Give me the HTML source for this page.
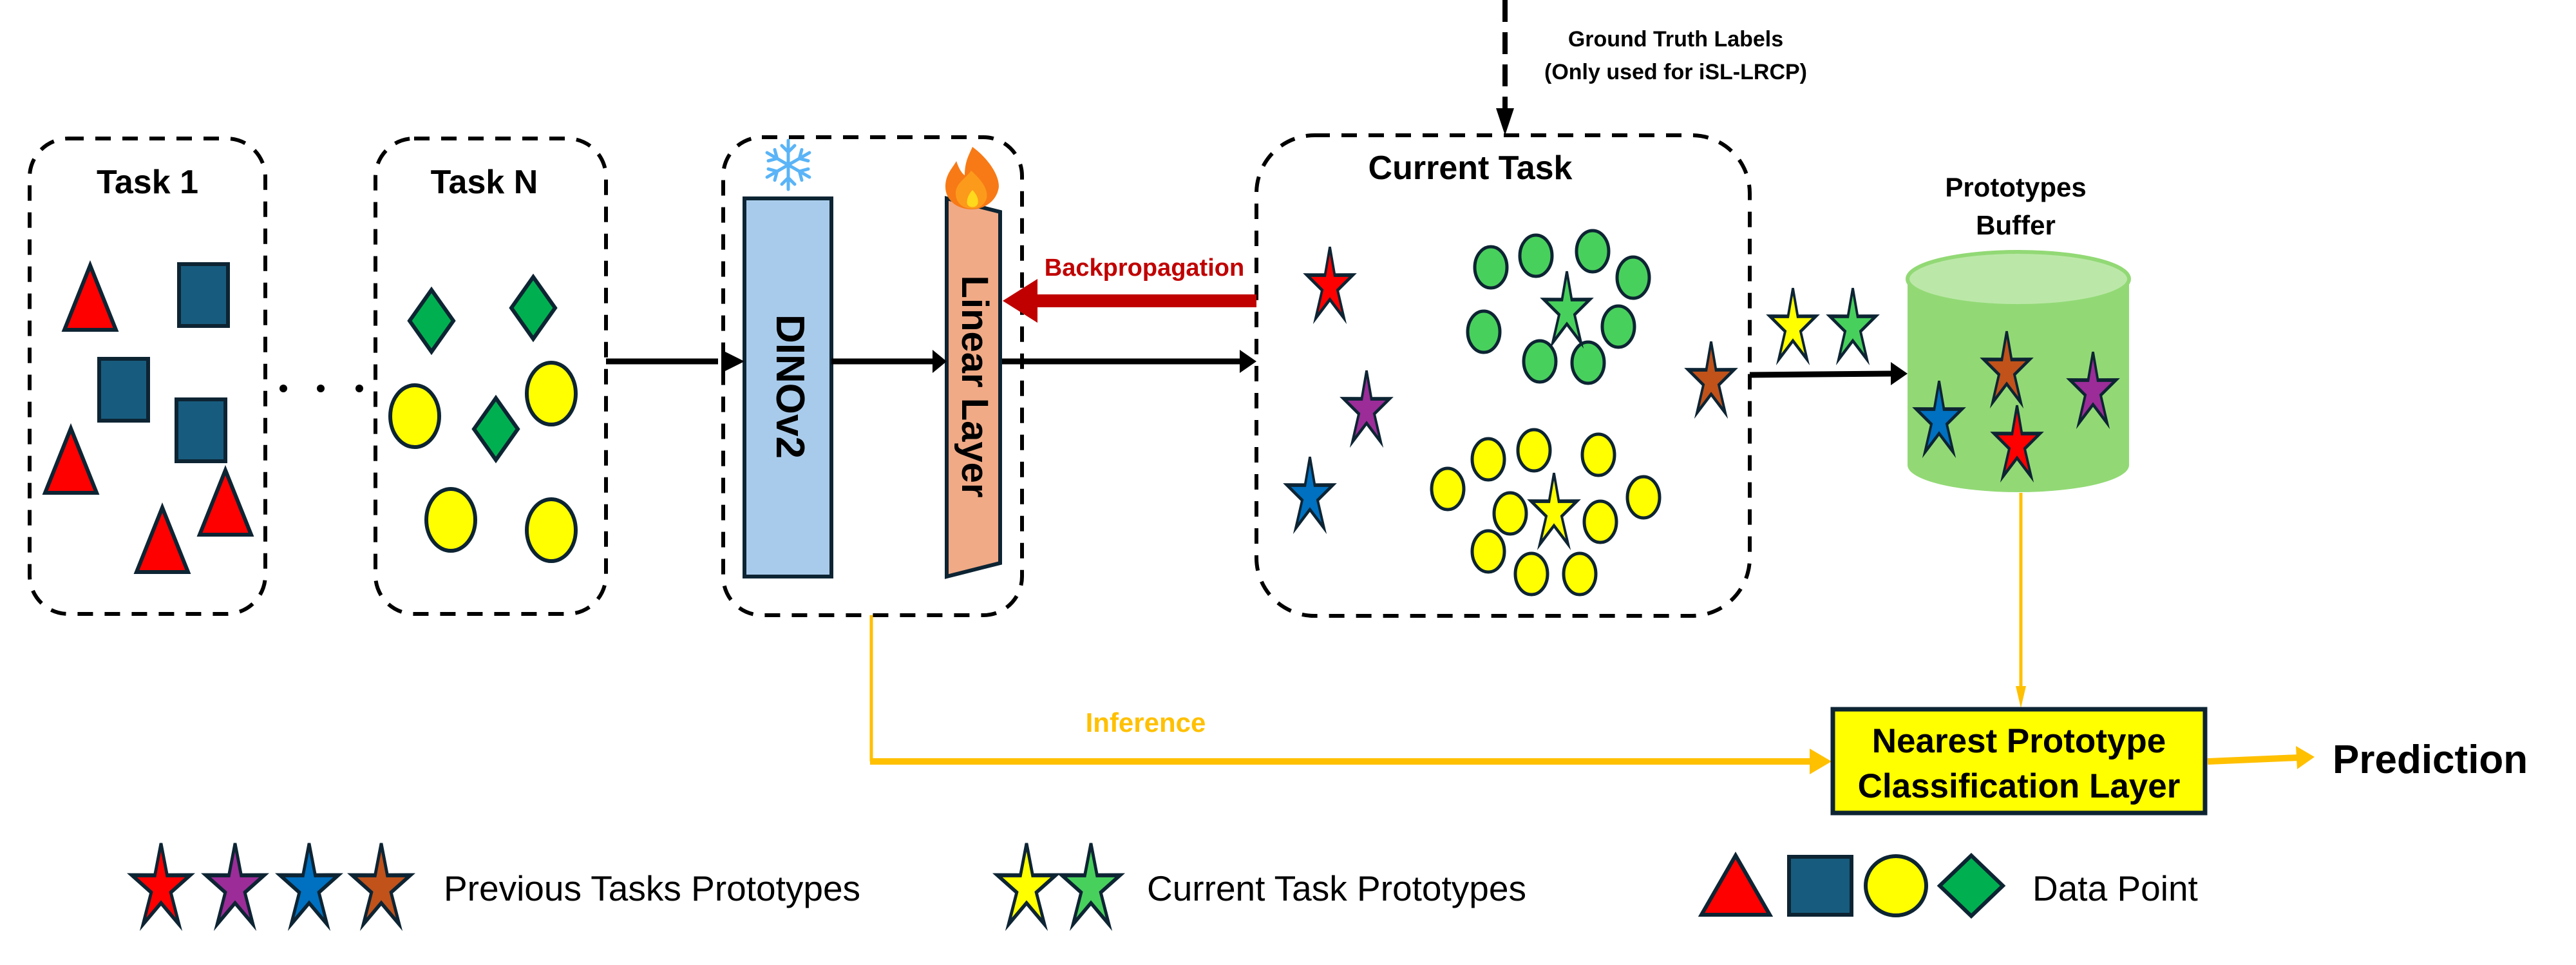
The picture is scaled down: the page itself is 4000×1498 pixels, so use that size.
<!DOCTYPE html>
<html><head><meta charset="utf-8"><style>
html,body{margin:0;padding:0;background:#fff}
svg{display:block}
text{font-family:"Liberation Sans",Arial,sans-serif}
</style></head><body>
<svg width="4000" height="1498" viewBox="0 0 4000 1498" xmlns="http://www.w3.org/2000/svg">
<defs>
<polygon id="st" points="0,-55 10,-15.4 47.6,-15.5 16,5.9 29.4,45.5 0,19 -29.4,45.5 -16,5.9 -47.6,-15.5 -10,-15.4" stroke="#0d2433" stroke-width="5" stroke-linejoin="miter"/>
<polygon id="tri" points="0,-50 40,50 -40,50" stroke="#0d2433" stroke-width="6"/>
<rect id="sq" x="-38" y="-48" width="76" height="96" fill="#175c7e" stroke="#0d2433" stroke-width="6"/>
<polygon id="dia" points="0,-48 34,0 0,48 -34,0" fill="#00b050" stroke="#0d2433" stroke-width="6"/>
<ellipse id="ye" rx="38" ry="48" fill="#ffff00" stroke="#0d2433" stroke-width="6"/>
<ellipse id="ge" rx="25" ry="32" fill="#48d05c" stroke="#0d2433" stroke-width="5"/>
<ellipse id="sye" rx="25" ry="32" fill="#ffff00" stroke="#0d2433" stroke-width="5"/>
</defs>

<g fill="none" stroke="#000" stroke-width="6" stroke-dasharray="24 18">
<rect x="46" y="215" width="366" height="738" rx="60"/>
<rect x="583" y="215" width="358" height="738" rx="60"/>
<rect x="1123" y="213" width="464" height="742" rx="60"/>
<rect x="1951" y="210" width="766" height="746" rx="90"/>
</g>

<text x="229" y="300" font-size="52" font-weight="bold" text-anchor="middle">Task 1</text>
<text x="752" y="300" font-size="52" font-weight="bold" text-anchor="middle">Task N</text>
<text x="2283" y="278" font-size="52" font-weight="bold" text-anchor="middle">Current Task</text>

<g fill="#ff0000">
<use href="#tri" x="140" y="462"/>
<use href="#tri" x="110" y="715"/>
<use href="#tri" x="252" y="838"/>
<use href="#tri" x="350" y="780"/>
</g>
<use href="#sq" x="316" y="458"/>
<use href="#sq" x="192" y="605"/>
<use href="#sq" x="312" y="668"/>
<circle cx="440" cy="603" r="6"/><circle cx="498" cy="603" r="6"/><circle cx="558" cy="603" r="6"/>

<use href="#dia" x="670" y="498"/>
<use href="#dia" x="828" y="478"/>
<use href="#dia" x="770" y="666"/>
<use href="#ye" x="644" y="646"/>
<use href="#ye" x="856" y="611"/>
<use href="#ye" x="700" y="807"/>
<use href="#ye" x="856" y="823"/>

<rect x="1156" y="308" width="135" height="587" fill="#a9cbeb" stroke="#0d2433" stroke-width="6"/>
<text transform="translate(1206,600) rotate(90)" font-size="62" font-weight="bold" text-anchor="middle">DINOv2</text>
<polygon points="1470,308 1553,329 1553,874 1470,895" fill="#f0aa86" stroke="#0d2433" stroke-width="6"/>
<text transform="translate(1494,600) rotate(90)" font-size="58" font-weight="bold" text-anchor="middle">Linear Layer</text>
<g stroke="#5ab4f7" stroke-width="5" stroke-linecap="round" fill="none" transform="translate(1224,256)">
<g id="arm"><line x1="0" y1="-38" x2="0" y2="38"/><polyline points="-10,-30 0,-20 10,-30"/><polyline points="-10,30 0,20 10,30"/></g>
<use href="#arm" transform="rotate(60)"/><use href="#arm" transform="rotate(120)"/>
</g>
<g transform="translate(1510,270)">
<path d="M0,-42 C30,-20 45,10 40,25 C35,45 15,55 0,55 C-25,55 -42,40 -42,20 C-42,0 -30,-10 -25,-20 C-20,-5 -15,0 -12,2 C-12,-20 -5,-30 0,-42Z" fill="#f77a16"/>
<path d="M-2,-5 C15,10 25,25 22,38 C18,50 8,54 0,54 C-15,54 -26,45 -26,30 C-26,15 -12,8 -2,-5Z" fill="#fc9a1c"/>
<path d="M0,25 C8,33 10,42 8,47 C5,53 -5,53 -8,47 C-10,40 -5,30 0,25Z" fill="#ffd91c"/>
</g>

<g stroke="#000" stroke-width="9" fill="none">
<line x1="941" y1="561" x2="1115" y2="561"/>
<line x1="1291" y1="561" x2="1452" y2="561"/>
<line x1="1556" y1="561" x2="1930" y2="561"/>
<line x1="2717" y1="582" x2="2940" y2="580"/>
</g>
<g fill="#000">
<polygon points="1156,561 1120,543 1120,579"/>
<polygon points="1470,561 1448,543 1448,579"/>
<polygon points="1951,561 1925,543 1925,579"/>
<polygon points="2962,580 2936,562 2936,598"/>
</g>
<rect x="1595" y="457" width="356" height="20" fill="#c00000"/>
<polygon points="1557,467 1611,433 1611,501" fill="#c00000"/>
<text x="1777" y="428" font-size="38" font-weight="bold" fill="#c00000" text-anchor="middle">Backpropagation</text>

<line x1="2337" y1="0" x2="2337" y2="175" stroke="#000" stroke-width="8" stroke-dasharray="34 16"/>
<polygon points="2337,210 2323,168 2351,168" fill="#000"/>
<text x="2602" y="72" font-size="34" font-weight="bold" text-anchor="middle">Ground Truth Labels</text>
<text x="2602" y="123" font-size="34" font-weight="bold" text-anchor="middle">(Only used for iSL-LRCP)</text>

<use href="#ge" x="2315" y="415"/><use href="#ge" x="2385" y="397"/><use href="#ge" x="2473" y="390"/><use href="#ge" x="2536" y="431"/>
<use href="#ge" x="2304" y="515"/><use href="#ge" x="2513" y="507"/><use href="#ge" x="2391" y="561"/><use href="#ge" x="2466" y="563"/>
<use href="#st" fill="#48d05c" transform="translate(2433,482) scale(0.75,1.1)"/>
<use href="#sye" x="2311" y="713"/><use href="#sye" x="2382" y="699"/><use href="#sye" x="2482" y="706"/><use href="#sye" x="2248" y="759"/>
<use href="#sye" x="2552" y="772"/><use href="#sye" x="2345" y="797"/><use href="#sye" x="2485" y="810"/><use href="#sye" x="2311" y="856"/>
<use href="#sye" x="2378" y="891"/><use href="#sye" x="2453" y="891"/>
<use href="#st" fill="#ffff00" transform="translate(2413,795) scale(0.75,1.1)"/>
<use href="#st" fill="#ff0000" transform="translate(2065,444) scale(0.75,1.1)"/>
<use href="#st" fill="#9b2c98" transform="translate(2122,636) scale(0.75,1.1)"/>
<use href="#st" fill="#0070c0" transform="translate(2034,770) scale(0.75,1.1)"/>
<use href="#st" fill="#c0521a" transform="translate(2657,591) scale(0.75,1.1)"/>
<use href="#st" fill="#ffff00" transform="translate(2784,508) scale(0.75,1.1)"/>
<use href="#st" fill="#48d05c" transform="translate(2877,508) scale(0.75,1.1)"/>

<text x="3130" y="305" font-size="42" font-weight="bold" text-anchor="middle">Prototypes</text>
<text x="3130" y="364" font-size="42" font-weight="bold" text-anchor="middle">Buffer</text>
<path d="M2962,433 L2962,722 A172,42 0 0 0 3306,722 L3306,433 Z" fill="#92d975"/>
<ellipse cx="3134" cy="433" rx="172" ry="42" fill="#bbe8a8" stroke="#92d975" stroke-width="6"/>
<use href="#st" fill="#c0521a" transform="translate(3116,575) scale(0.75,1.1)"/>
<use href="#st" fill="#9b2c98" transform="translate(3250,607) scale(0.75,1.1)"/>
<use href="#st" fill="#0070c0" transform="translate(3011,652) scale(0.75,1.1)"/>
<use href="#st" fill="#ff0000" transform="translate(3132,690) scale(0.75,1.1)"/>

<line x1="3138" y1="765" x2="3138" y2="1070" stroke="#ffc000" stroke-width="5"/>
<polygon points="3138,1099 3130,1065 3146,1065" fill="#ffc000"/>
<line x1="1353" y1="955" x2="1353" y2="1182" stroke="#ffc000" stroke-width="5"/>
<line x1="1351" y1="1182" x2="2815" y2="1182" stroke="#ffc000" stroke-width="10"/>
<polygon points="2844,1182 2810,1162 2810,1202" fill="#ffc000"/>
<text x="1779" y="1136" font-size="42" font-weight="bold" fill="#ffc000" text-anchor="middle">Inference</text>
<line x1="3428" y1="1182" x2="3570" y2="1176" stroke="#ffc000" stroke-width="10"/>
<polygon points="3594,1175 3565,1158 3567,1194" fill="#ffc000"/>
<text x="3622" y="1200" font-size="62" font-weight="bold">Prediction</text>

<rect x="2846" y="1101" width="578" height="161" fill="#ffff00" stroke="#0d2433" stroke-width="7"/>
<text x="3135" y="1168" font-size="53" font-weight="bold" text-anchor="middle">Nearest Prototype</text>
<text x="3135" y="1238" font-size="53" font-weight="bold" text-anchor="middle">Classification Layer</text>

<use href="#st" fill="#ff0000" transform="translate(250,1378) scale(0.95,1.25)"/>
<use href="#st" fill="#9b2c98" transform="translate(365,1378) scale(0.95,1.25)"/>
<use href="#st" fill="#0070c0" transform="translate(480,1378) scale(0.95,1.25)"/>
<use href="#st" fill="#c0521a" transform="translate(592,1378) scale(0.95,1.25)"/>
<text x="689" y="1398" font-size="55">Previous Tasks Prototypes</text>
<use href="#st" fill="#ffff00" transform="translate(1594,1378) scale(0.95,1.25)"/>
<use href="#st" fill="#48d05c" transform="translate(1694,1378) scale(0.95,1.25)"/>
<text x="1781" y="1398" font-size="55">Current Task Prototypes</text>
<polygon points="2695,1328 2748,1420 2642,1420" fill="#ff0000" stroke="#0d2433" stroke-width="6"/>
<rect x="2778" y="1330" width="97" height="90" fill="#175c7e" stroke="#0d2433" stroke-width="6"/>
<ellipse cx="2944" cy="1375" rx="47" ry="46" fill="#ffff00" stroke="#0d2433" stroke-width="6"/>
<polygon points="3061,1328 3110,1375 3061,1422 3012,1375" fill="#00b050" stroke="#0d2433" stroke-width="6"/>
<text x="3156" y="1398" font-size="55">Data Point</text>
</svg>
</body></html>
